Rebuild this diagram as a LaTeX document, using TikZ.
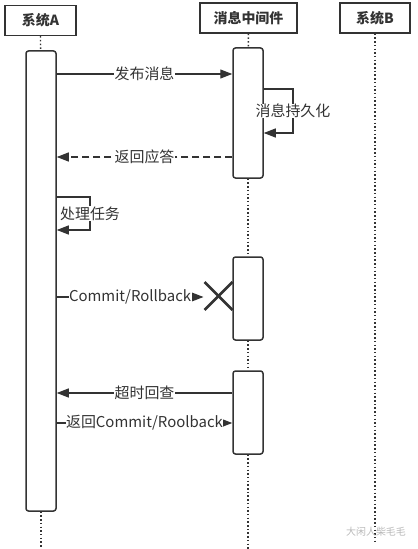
\documentclass[tikz,border=0pt]{standalone}
\usepackage{fontspec}
\setmainfont{Noto Sans CJK SC}
\usetikzlibrary{arrows.meta}
\definecolor{ink}{HTML}{333333}

\begin{document}
\begin{tikzpicture}[x=1bp,y=-1bp,
  headbox/.style={draw=ink,line width=1.5bp,minimum height=30bp,inner sep=0pt,text=ink,font=\bfseries\fontsize{14}{16}\selectfont},
  actbar/.style={draw=ink,line width=1.5bp,rounded corners=2.5bp,minimum width=30bp,inner sep=0pt,fill=white},
  lifeline/.style={ink,line width=1.4bp,dash pattern=on 1.5bp off 2.2bp},
  msg/.style={ink,line width=1.2bp,-{Triangle[length=12bp,width=9bp]}},
  lbl/.style={fill=white,text=ink,inner sep=0.5bp,font=\fontsize{15}{17}\selectfont}]

\useasboundingbox (0,0) rectangle (417,549);

\node[headbox,minimum width=71bp] (sysA) at (40.5,20.5) {系统A};
\node[headbox,minimum width=97bp] (mq) at (248.5,18) {消息中间件};
\node[headbox,minimum width=70bp] (sysB) at (375,18) {系统B};

\node[actbar,minimum height=460bp] (actA) at (41,281) {};
\node[actbar,minimum height=130bp] (actM1) at (248,113) {};
\node[actbar,minimum height=83bp] (actM2) at (248,298.5) {};
\node[actbar,minimum height=83bp] (actM3) at (248,412.5) {};

\coordinate (endA) at (41,549);
\coordinate (endM) at (248,549);
\coordinate (endB) at (375,541);

\draw[lifeline] (sysA) -- (actA);
\draw[lifeline] (actA) -- (endA);
\draw[lifeline] (mq) -- (actM1);
\draw[lifeline] (actM1) -- (actM2);
\draw[lifeline] (actM2) -- (actM3);
\draw[lifeline] (actM3) -- (endM);
\draw[lifeline] (sysB) -- (endB);

\draw[msg] (actA.east |- 0,74) -- node[lbl] {发布消息} (actM1.west |- 0,74);
\draw[msg] (actM1.east |- 0,89) -- (293,89) -- node[lbl] {消息持久化} (293,133) -- (actM1.east |- 0,133);
\draw[msg,dash pattern=on 7bp off 4bp] (actM1.west |- 0,157) -- node[lbl] {返回应答} (actA.east |- 0,157);
\draw[msg] (actA.east |- 0,197) -- (90,197) -- node[lbl] {处理任务} (90,230) -- (actA.east |- 0,230);

\coordinate (killpt) at (218.5,296);
\draw[msg] (actA.east |- 0,297) -- node[lbl] {Commit/Rollback} ([xshift=-15bp]killpt |- 0,297);
\draw[ink,line width=2.6bp] ([shift={(-14,-14)}]killpt) -- ([shift={(14,14)}]killpt);
\draw[ink,line width=2.6bp] ([shift={(-14,14)}]killpt) -- ([shift={(14,-14)}]killpt);

\draw[msg] (actM3.west |- 0,393) -- node[lbl] {超时回查} (actA.east |- 0,393);
\draw[msg] (actA.east |- 0,423) -- node[lbl] {返回Commit/Roolback} (actM3.west |- 0,423);

\node[text=gray!55,font=\fontsize{10}{12}\selectfont] (mark) at (376,532) {大闲人柴毛毛};

\end{tikzpicture}
\end{document}
